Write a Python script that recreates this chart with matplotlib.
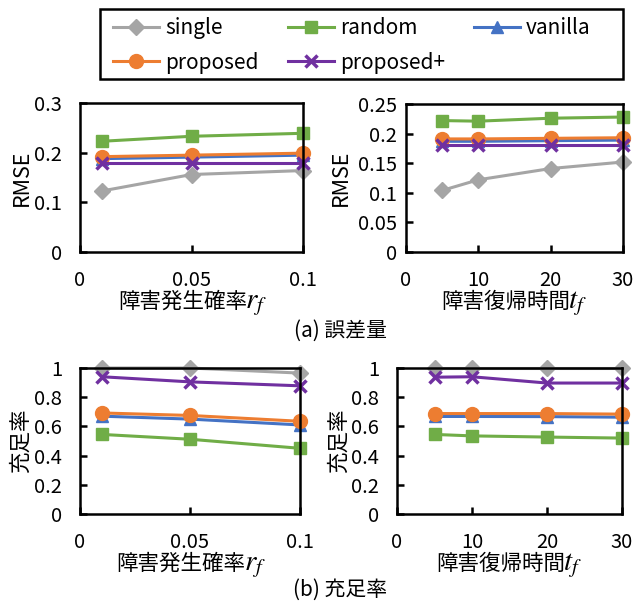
import matplotlib
matplotlib.use('Agg')
import matplotlib.pyplot as plt
from matplotlib.patches import Rectangle
from matplotlib.ticker import FuncFormatter, MultipleLocator

plt.rcParams['font.family'] = ['Noto Sans CJK JP', 'DejaVu Sans']
plt.rcParams['mathtext.fontset'] = 'stix'

# x values
rf = [0.01, 0.05, 0.1]
tf = [5, 10, 20, 30]

# (a) RMSE
rmse_rf = {
    'single': [0.123, 0.156, 0.164],
    'random': [0.223, 0.233, 0.239],
    'vanilla': [0.188, 0.191, 0.195],
    'proposed': [0.192, 0.195, 0.199],
    'proposed+': [0.180, 0.180, 0.180],
}
rmse_tf = {
    'single': [0.104, 0.122, 0.141, 0.152],
    'random': [0.222, 0.221, 0.226, 0.228],
    'vanilla': [0.187, 0.187, 0.188, 0.189],
    'proposed': [0.191, 0.191, 0.192, 0.193],
    'proposed+': [0.181, 0.181, 0.181, 0.181],
}
# (b) 充足率
sat_rf = {
    'single': [1.0, 1.0, 0.965],
    'random': [0.545, 0.512, 0.450],
    'vanilla': [0.670, 0.650, 0.610],
    'proposed': [0.692, 0.675, 0.635],
    'proposed+': [0.940, 0.905, 0.878],
}
sat_tf = {
    'single': [1.0, 1.0, 1.0, 1.0],
    'random': [0.545, 0.535, 0.527, 0.520],
    'vanilla': [0.668, 0.668, 0.667, 0.663],
    'proposed': [0.688, 0.688, 0.688, 0.684],
    'proposed+': [0.937, 0.940, 0.897, 0.897],
}

names = ['single', 'random', 'vanilla', 'proposed', 'proposed+']
colors = {'single': '#A5A5A5', 'random': '#70AD47', 'vanilla': '#4472C4',
          'proposed': '#ED7D31', 'proposed+': '#7030A0'}
markers = {'single': ('D', 8), 'random': ('s', 9), 'vanilla': ('^', 9),
           'proposed': ('o', 10), 'proposed+': ('x', 9)}

W, H = 634, 602
fig = plt.figure(figsize=(W / 100, H / 100), dpi=100)


def box(l, t, r, b):
    return [l / W, 1 - b / H, (r - l) / W, (b - t) / H]


fmt = FuncFormatter(lambda v, p: '%g' % round(v, 4))


def panel(rect, xs, data, xmax, xstep, ymax, ystep, xlabel, xmath, ylabel,
          ypad, ylab_x):
    ax = fig.add_axes(rect)
    lines = {}
    for n in names:
        m, ms = markers[n]
        ln, = ax.plot(xs, data[n], color=colors[n], lw=2.2, marker=m, ms=ms,
                      mew=2.5 if m == 'x' else 1, mec=colors[n], clip_on=False)
        lines[n] = ln
    ax.set_xlim(0, xmax)
    ax.set_ylim(0, ymax)
    ax.xaxis.set_major_locator(MultipleLocator(xstep))
    ax.yaxis.set_major_locator(MultipleLocator(ystep))
    ax.xaxis.set_major_formatter(fmt)
    ax.yaxis.set_major_formatter(fmt)
    for s in ax.spines.values():
        s.set_linewidth(1.8)
        s.set_color('black')
    ax.tick_params(direction='in', length=5, width=1.8, labelsize=14.5)
    ax.tick_params(axis='x', pad=13)
    ax.tick_params(axis='y', pad=ypad)
    ax.set_xlabel(xlabel, fontsize=15.5, labelpad=0)
    ax.xaxis.label.set_x(0.46)
    # italic variable drawn larger, right after the label
    ax.annotate(xmath, xy=(0.985, 0.22), xycoords=ax.xaxis.label,
                ha='left', va='baseline', fontsize=21)
    ax.set_ylabel(ylabel, fontsize=15.5)
    ax.yaxis.set_label_coords(ylab_x, 0.5)
    return lines


lines = panel(box(80, 103, 303, 252), rf, rmse_rf, 0.1, 0.05, 0.3, 0.1,
              '障害発生確率', '$r_f$', 'RMSE', 13, -0.21)
panel(box(406, 104, 623, 252), tf, rmse_tf, 30, 10, 0.25, 0.05,
      '障害復帰時間', '$t_f$', 'RMSE', 6.5, -0.25)
panel(box(80, 368, 300, 514), rf, sat_rf, 0.1, 0.05, 1.0, 0.2,
      '障害発生確率', '$r_f$', '充足率', 13, -0.218)
panel(box(397, 368, 622, 514), tf, sat_tf, 30, 10, 1.0, 0.2,
      '障害復帰時間', '$t_f$', '充足率', 13, -0.209)

fig.text(340 / W, 1 - 331 / H, '(a) 誤差量', fontsize=15, ha='center', va='center')
fig.text(340 / W, 1 - 590 / H, '(b) 充足率', fontsize=15, ha='center', va='center')

# legend with a separate heavy frame, filled row by row
order = ['single', 'proposed', 'random', 'proposed+', 'vanilla']
fig.patches.append(Rectangle((100 / W, 1 - 79 / H), 523 / W, 70 / H,
                             transform=fig.transFigure, fill=False,
                             ec='black', lw=1.8))
fig.legend([lines[n] for n in order], order, ncol=3, loc='upper left',
           frameon=False, bbox_to_anchor=(113 / W, 1 - 17 / H), borderpad=0,
           borderaxespad=0, fontsize=15, handlelength=2.2, handletextpad=0.3,
           columnspacing=1.4, labelspacing=0.6)

fig.savefig('out.png', dpi=100)
